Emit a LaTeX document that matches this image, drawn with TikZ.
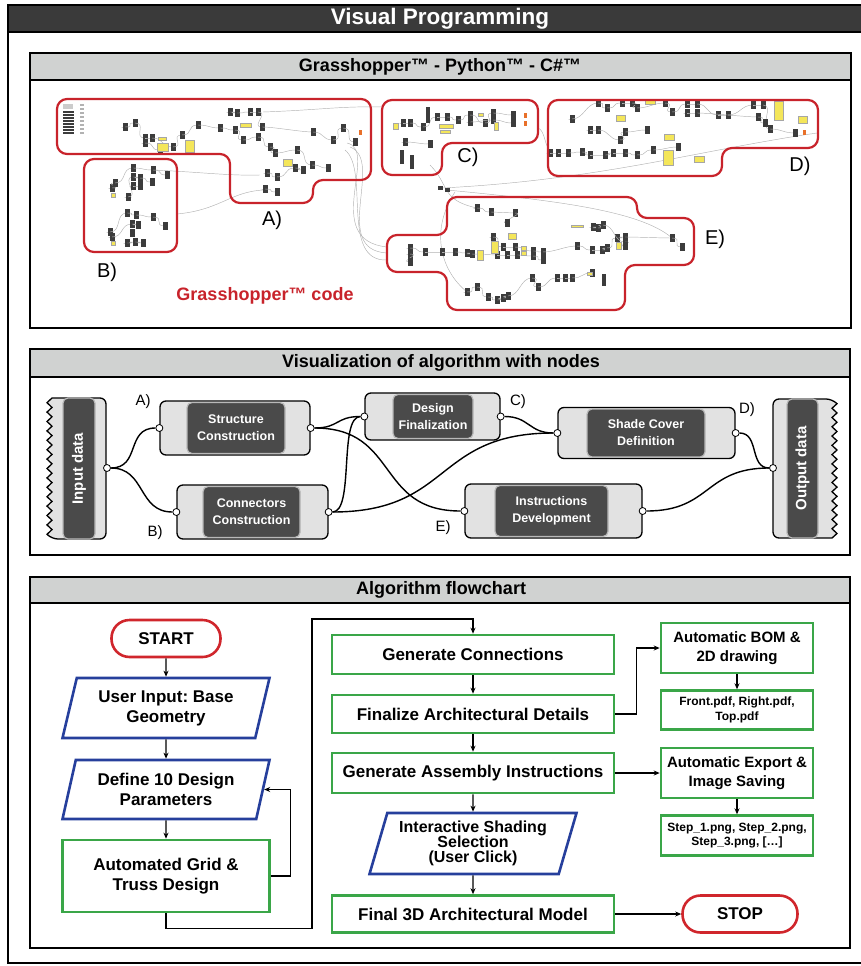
\documentclass[tikz,border=0pt]{standalone}
\usepackage{fontspec}
\setmainfont{Liberation Sans}
\usetikzlibrary{positioning,arrows.meta,shapes.geometric}

\definecolor{barDark}{HTML}{3A3A3A}
\definecolor{headGray}{HTML}{D0D2D1}
\definecolor{ghRed}{HTML}{C8232B}
\definecolor{ghDark}{HTML}{3C3C3C}
\definecolor{ghYellow}{HTML}{F4E65A}
\definecolor{ghOrange}{HTML}{E8702A}
\definecolor{flowGreen}{HTML}{3AA648}
\definecolor{flowBlue}{HTML}{263F9C}
\definecolor{flowRed}{HTML}{D0262C}
\definecolor{compLight}{HTML}{E2E2E2}
\definecolor{compDark}{HTML}{4A4A4A}

% a chain of grasshopper components joined by wires
\newcommand{\ghchain}[3]{%
  \foreach \x/\y [remember=\x as \px (initially #1), remember=\y as \py (initially #2)] in {#3} {
    \draw[ghwire] (\px,\py) .. controls +(12,0) and +(-12,0) .. (\x,\y);
    \fill[ghDark] (\x-2.5,\y-4) rectangle +(5,8);
  }}
\newcommand{\ghpanels}[1]{%
  \foreach \x/\y/\w/\h in {#1}
    \filldraw[fill=ghYellow, draw=gray!70, line width=0.3] (\x,\y) rectangle +(\w,\h);}

\tikzset{
  panelframe/.style={draw=black, line width=1.8},
  header/.style={panelframe, fill=headGray},
  ptitle/.style={font=\bfseries\fontsize{18}{20}\selectfont},
  ghwire/.style={draw=gray!60, line width=0.45},
  ghgroup/.style={draw=ghRed, line width=2.2, rounded corners=10},
  ghlabel/.style={font=\fontsize{20}{22}\selectfont},
  gbody/.style={draw=black, line width=1.3, fill=compLight, rounded corners=6},
  gcore/.style={draw=gray!55, line width=1.2, fill=compDark, rounded corners=5, text=white,
    align=center, inner sep=0, font=\bfseries\fontsize{12.5}{17}\selectfont},
  port/.style={circle, draw=black, fill=white, line width=0.8, inner sep=0, minimum size=7},
  wire/.style={draw=black, line width=1.4},
  nlabel/.style={font=\fontsize{15}{17}\selectfont},
  flowbox/.style={draw=flowGreen, line width=2.6, fill=white, align=center, inner sep=2,
    font=\bfseries\fontsize{17}{20}\selectfont},
  smallbox/.style={flowbox, font=\bfseries\fontsize{12}{14.5}\selectfont},
  iobox/.style={flowbox, draw=flowBlue, trapezium, trapezium left angle=70,
    trapezium right angle=110, trapezium stretches body},
  terminal/.style={flowbox, draw=flowRed, rounded corners=18},
  arr/.style={draw=black, line width=1.1, -{Stealth[length=6pt,width=5pt]}},
}

\begin{document}
\frenchspacing
\begin{tikzpicture}[x=1pt,y=-1pt]
\useasboundingbox (0,0) rectangle (860,966);

% outer frame
\draw[panelframe] (8,5) rectangle (866,963);
\draw[panelframe, fill=barDark] (8,5) rectangle (866,32);
\node[text=white, font=\bfseries\fontsize{22.5}{24}\selectfont] (maintitle) at (440,18.5) {Visual Programming};

% ---------- panel 1 : grasshopper code ----------
\draw[panelframe] (30,53) rectangle (851,328);
\draw[header] (30,53) rectangle (851,80);
\node[ptitle] (ghtitle) at (440,66.5) {Grasshopper™ - Python™ - C\#™};

% long wires between groups
\draw[ghwire] (263,112) .. controls (320,110) and (340,106) .. (382,107);
\draw[ghwire] (347,143) .. controls (380,150) and (320,240) .. (387,247);
\draw[ghwire] (350,147) .. controls (385,160) and (330,250) .. (387,253);
\draw[ghwire] (345,150) .. controls (370,170) and (340,262) .. (387,260);
\draw[ghwire] (177,214) .. controls (220,210) and (230,192) .. (263,190);
\draw[ghwire] (153,170) .. controls (200,172) and (230,176) .. (260,175);
\draw[ghwire] (430,165) .. controls (450,185) and (440,200) .. (477,208);
\draw[ghwire] (442,188) .. controls (600,180) and (700,150) .. (817,133);
\draw[ghwire] (447,190) .. controls (550,200) and (640,210) .. (672,238);
\draw[ghwire] (538,128) .. controls (545,130) and (545,148) .. (550,150);
\draw[ghwire] (455,192) .. controls (430,230) and (440,270) .. (467,292);
\fill[ghDark] (438,186) rectangle +(5,4);
\fill[ghDark] (445,188) rectangle +(5,4);

% group A
\fill[gray!40] (63,104) rectangle +(10,5);
\foreach \y in {111,114,...,132}
  \fill[ghDark] (63,\y) rectangle +(11,1.8);
\foreach \y in {104,108,...,132}
  \fill[gray!60] (80,\y) rectangle +(4,1.5);
\ghchain{125}{127}{125/127, 135/123, 145/138, 152/138, 173/147, 182/135, 198/125, 220/128,
  235/130, 243/140, 258/137, 270/147, 275/153, 297/150, 312/165, 328/168}
\ghchain{145}{143}{145/143, 160/150}
\ghchain{230}{112}{230/112, 237/113, 250/112, 258/112, 262/127, 313/132, 333/140, 343/128, 355/142}
\ghchain{267}{173}{267/173, 277/177, 295/168, 303/170}
\ghchain{265}{189}{265/189, 277/192}
\ghpanels{158/137/8/3, 157/143/11/8, 185/140/9/12, 240/123/11/4, 283/159/9/7}
\fill[ghOrange] (359,130) rectangle +(3,5);
\draw[ghgroup] (57,99) -- (371,99) -- (371,180) -- (313,180) -- (313,203) -- (230,203)
  -- (230,154) -- (57,154) -- cycle;
\node[ghlabel] (grpA) at (272,220) {A)};

% group B
\ghchain{112}{188}{112/188, 115/183, 133/168, 153/170, 167/175}
\ghchain{128}{197}{128/197, 133/177, 140/178, 152/182}
\ghchain{133}{186}{133/186, 140/186}
\ghchain{110}{232}{110/232, 127/213, 136/215, 153/217, 165/226}
\ghchain{112}{237}{112/237, 132/224, 138/225}
\ghchain{127}{243}{127/243, 135/242, 143/243}
\fill[ghDark] (129.5,229) rectangle +(5,8);
\ghpanels{111/193/4/4, 111/241/4/4}
\draw[ghgroup] (84,159) rectangle (177,252);
\node[ghlabel] (grpB) at (107,272) {B)};

% group C
\ghchain{403}{123}{403/123, 410/123, 423/127, 437/117, 447/117, 458/120, 470/115, 485/123,
  493/113, 513/115}
\ghchain{470}{122}{470/122, 493/120, 513/123}
\ghchain{405}{142}{405/142, 430/144}
\fill[ghDark] (426,107) rectangle +(4,16);
\fill[ghDark] (400,150) rectangle +(4,14);
\fill[ghDark] (410,155) rectangle +(4,14);
\ghpanels{393/123/5/6, 439/124/14/4, 440/130/10/3, 478/113/5/3, 494/122/4/8}
\fill[ghOrange] (524,113) rectangle +(3,5);
\fill[ghOrange] (524,121) rectangle +(3,5);
\draw[ghgroup] (382,100) -- (538,100) -- (538,143) -- (442,143) -- (442,175) -- (382,175) -- cycle;
\node[ghlabel] (grpC) at (468,157) {C)};

% group D
\ghchain{550}{153}{550/153, 558/153, 568/153, 582/152, 590/155, 605/155, 613/153, 625/153,
  637/155, 653/150, 678/147}
\ghchain{590}{130}{590/130, 598/130, 620/140, 625/132, 647/130}
\ghchain{572}{119}{572/119, 598/103, 607/108, 622/103, 632/103, 637/108, 665/103, 672/112,
  687/104, 697/104, 718/115, 728/115, 753/105, 763/105, 770/129, 795/133}
\ghchain{687}{113}{687/113, 697/113, 758/117, 765/123}
\ghpanels{645/99/10/5, 616/115/9/6, 774/101/9/19, 798/116/9/7, 664/134/10/6, 663/150/10/15,
  694/156/10/6}
\fill[ghOrange] (803,130) rectangle +(3,5);
\draw[ghgroup] (548,100) -- (818,100) -- (818,148) -- (722,148) -- (722,176) -- (548,176) -- cycle;
\node[ghlabel] (grpD) at (800,166) {D)};

% group E
\ghchain{410}{248}{410/248, 425/252, 442/252, 455/252, 467/253, 472/254, 497/255, 507/255,
  517/255, 533/256, 543/260}
\ghchain{410}{254}{410/254, 410/262}
\ghchain{477}{208}{477/208, 491/212, 515/213, 507/223}
\ghchain{493}{237}{493/237, 503/247, 515/247, 533/251, 543/252, 577/246, 592/250, 602/250,
  607/248, 617/238, 625/237, 672/238, 682/247}
\ghchain{593}{227}{593/227, 598/228, 603/225, 625/242, 625/246}
\ghchain{467}{292}{467/292, 477/287, 488/297, 497/300, 503/298, 508/296, 532/278, 538/287,
  557/278, 565/278, 572/278, 592/273}
\fill[ghDark] (602,274) rectangle +(4,12);
\ghpanels{491/241/7/12, 477/250/6/10, 508/233/8/6, 521/246/5/4, 521/251/5/4, 616/242/5/7,
  571/225/12/2, 587/272/5/3}
\draw[ghgroup] (447,197) -- (637,197) -- (637,218) -- (694,218) -- (694,265) -- (625,265)
  -- (625,310) -- (447,310) -- (447,272) -- (387,272) -- (387,235) -- (447,235) -- cycle;
\node[ghlabel] (grpE) at (715,239) {E)};

\node[text=ghRed, font=\bfseries\fontsize{18}{20}\selectfont] (ghcode) at (265,296) {Grasshopper™ code};

% ---------- panel 2 : nodes ----------
\draw[panelframe] (30,349) rectangle (850,555);
\draw[header] (30,349) rectangle (850,377);
\node[ptitle] (nodetitle) at (441,363) {Visualization of algorithm with nodes};

% input / output data
\draw[gbody] (52,539) [sharp corners] \foreach \k in {1,...,15} { -- (47,{539-\k*9.4+4.7}) -- (52,{539-\k*9.4}) }
  [rounded corners=6] -- (106,398) -- (106,539) -- cycle;
\node[gcore, rotate=90, minimum width=141, minimum height=32, font=\bfseries\fontsize{15}{17}\selectfont]
  (indata) at (79,468.5) {Input data};
\draw[gbody] (832,399) [sharp corners] \foreach \k in {1,...,15} { -- (837,{399+\k*9.27-4.6}) -- (832,{399+\k*9.27}) }
  [rounded corners=6] -- (773,538) -- (773,399) -- cycle;
\node[gcore, rotate=90, minimum width=139, minimum height=31, font=\bfseries\fontsize{15}{17}\selectfont]
  (outdata) at (802.5,468.5) {Output data};

% components
\node[gbody, minimum width=150, minimum height=54] (struct) at (235,428) {};
\node[gcore, minimum width=98, minimum height=51] (structcore) at (236,428) {Structure\\Construction};
\node[gbody, minimum width=135, minimum height=47] (design) at (432.5,416.5) {};
\node[gcore, minimum width=80, minimum height=44] (designcore) at (433,416.5) {Design\\Finalization};
\node[gbody, minimum width=177, minimum height=51] (shade) at (646.5,433) {};
\node[gcore, minimum width=118, minimum height=48] (shadecore) at (646,433) {Shade Cover\\Definition};
\node[gbody, minimum width=151, minimum height=54] (conn) at (252.5,512) {};
\node[gcore, minimum width=97, minimum height=51] (conncore) at (251.5,512) {Connectors\\Construction};
\node[gbody, minimum width=177, minimum height=54] (instr) at (553.5,511) {};
\node[gcore, minimum width=113, minimum height=51] (instrcore) at (551.5,511) {Instructions\\Development};

% ports
\node[port] (inport) at (107,468) {};
\node[port] (outport) at (773,468) {};
\node[port] (structin) at (struct.west) {};
\node[port] (structout) at (struct.east) {};
\node[port] (designin) at (design.west) {};
\node[port] (designout) at (design.east) {};
\node[port] (shadein) at (shade.west) {};
\node[port] (shadeout) at (shade.east) {};
\node[port] (connin) at (conn.west) {};
\node[port] (connout) at (conn.east) {};
\node[port] (instrin) at (instr.west) {};
\node[port] (instrout) at (instr.east) {};

% wires
\draw[wire] (inport.east) .. controls +(30,0) and +(-30,0) .. (structin.west);
\draw[wire] (inport.east) .. controls +(35,0) and +(-35,0) .. (connin.west);
\draw[wire] (structout.east) .. controls +(25,0) and +(-25,0) .. (designin.west);
\draw[wire] (structout.east) .. controls +(85,0) and +(-85,0) .. (instrin.west);
\draw[wire] (connout.east) .. controls +(22,0) and +(-22,0) .. (designin.west);
\draw[wire] (connout.east) .. controls +(120,0) and +(-120,0) .. (shadein.west);
\draw[wire] (designout.east) .. controls +(25,0) and +(-25,0) .. (shadein.west);
\draw[wire] (shadeout.east) .. controls +(20,0) and +(-20,0) .. (outport.west);
\draw[wire] (instrout.east) .. controls +(65,0) and +(-65,0) .. (outport.west);

\node[nlabel] (labA) at (143,402) {A)};
\node[nlabel] (labB) at (155,533) {B)};
\node[nlabel] (labC) at (518,402) {C)};
\node[nlabel] (labD) at (747,410) {D)};
\node[nlabel] (labE) at (443,528) {E)};

% ---------- panel 3 : flowchart ----------
\draw[panelframe] (30,577) rectangle (850,948);
\draw[header] (30,577) rectangle (850,603);
\node[ptitle] (flowtitle) at (441,590) {Algorithm flowchart};

\node[terminal, minimum width=109, minimum height=37] (start) at (166,638.5) {START};
\node[iobox, minimum width=207, minimum height=60] (user) at (166,708) {User Input: Base\\Geometry};
\node[iobox, minimum width=207, minimum height=59] (define) at (166,789.5) {Define 10 Design\\Parameters};
\node[flowbox, minimum width=207, minimum height=72] (auto) at (166,876) {Automated Grid \&\\Truss Design};

\node[flowbox, minimum width=282, minimum height=39] (gen) at (473,654.5) {Generate Connections};
\node[flowbox, minimum width=282, minimum height=38] (fin) at (473,714) {Finalize Architectural Details};
\node[flowbox, minimum width=282, minimum height=40] (asm) at (473,773) {Generate Assembly Instructions};
\node[iobox, minimum width=207, minimum height=61, font=\bfseries\fontsize{16}{15}\selectfont]
  (select) at (473,843.5) {Interactive Shading\\Selection\\(User Click)};
\node[flowbox, minimum width=282, minimum height=37] (final) at (473,914) {Final 3D Architectural Model};

\node[flowbox, minimum width=152, minimum height=50, font=\bfseries\fontsize{15}{19}\selectfont]
  (bom) at (737,648) {Automatic BOM \&\\2D drawing};
\node[smallbox, minimum width=152, minimum height=39, below=15pt of bom] (front) {Front.pdf, Right.pdf,\\Top.pdf};
\node[flowbox, minimum width=152, minimum height=50, font=\bfseries\fontsize{15}{19}\selectfont]
  (export) at (737,773) {Automatic Export \&\\Image Saving};
\node[smallbox, minimum width=152, minimum height=40, below=15pt of export] (steps) {Step\_1.png, Step\_2.png,\\Step\_3.png, […]};
\node[terminal, minimum width=115, minimum height=37] (stop) at (740,914) {STOP};

\coordinate (backtop) at (312,619);
\draw[arr] (start) -- (user);
\draw[arr] (user) -- (define);
\draw[arr] (define) -- (auto);
\draw[arr] (auto.east) -- ++(20,0) |- (define.east);
\draw[arr] (auto.south) -- ++(0,15) -| (backtop) -| (gen.north);
\draw[arr] (gen) -- (fin);
\draw[arr] (fin) -- (asm);
\draw[arr] (asm) -- (select);
\draw[arr] (select) -- (final);
\draw[arr] (fin.east) -- ++(21,0) |- (bom.west);
\draw[arr] (asm) -- (export);
\draw[arr] (final) -- (stop);
\draw[arr] (bom) -- (front);
\draw[arr] (export) -- (steps);
\end{tikzpicture}
\end{document}
